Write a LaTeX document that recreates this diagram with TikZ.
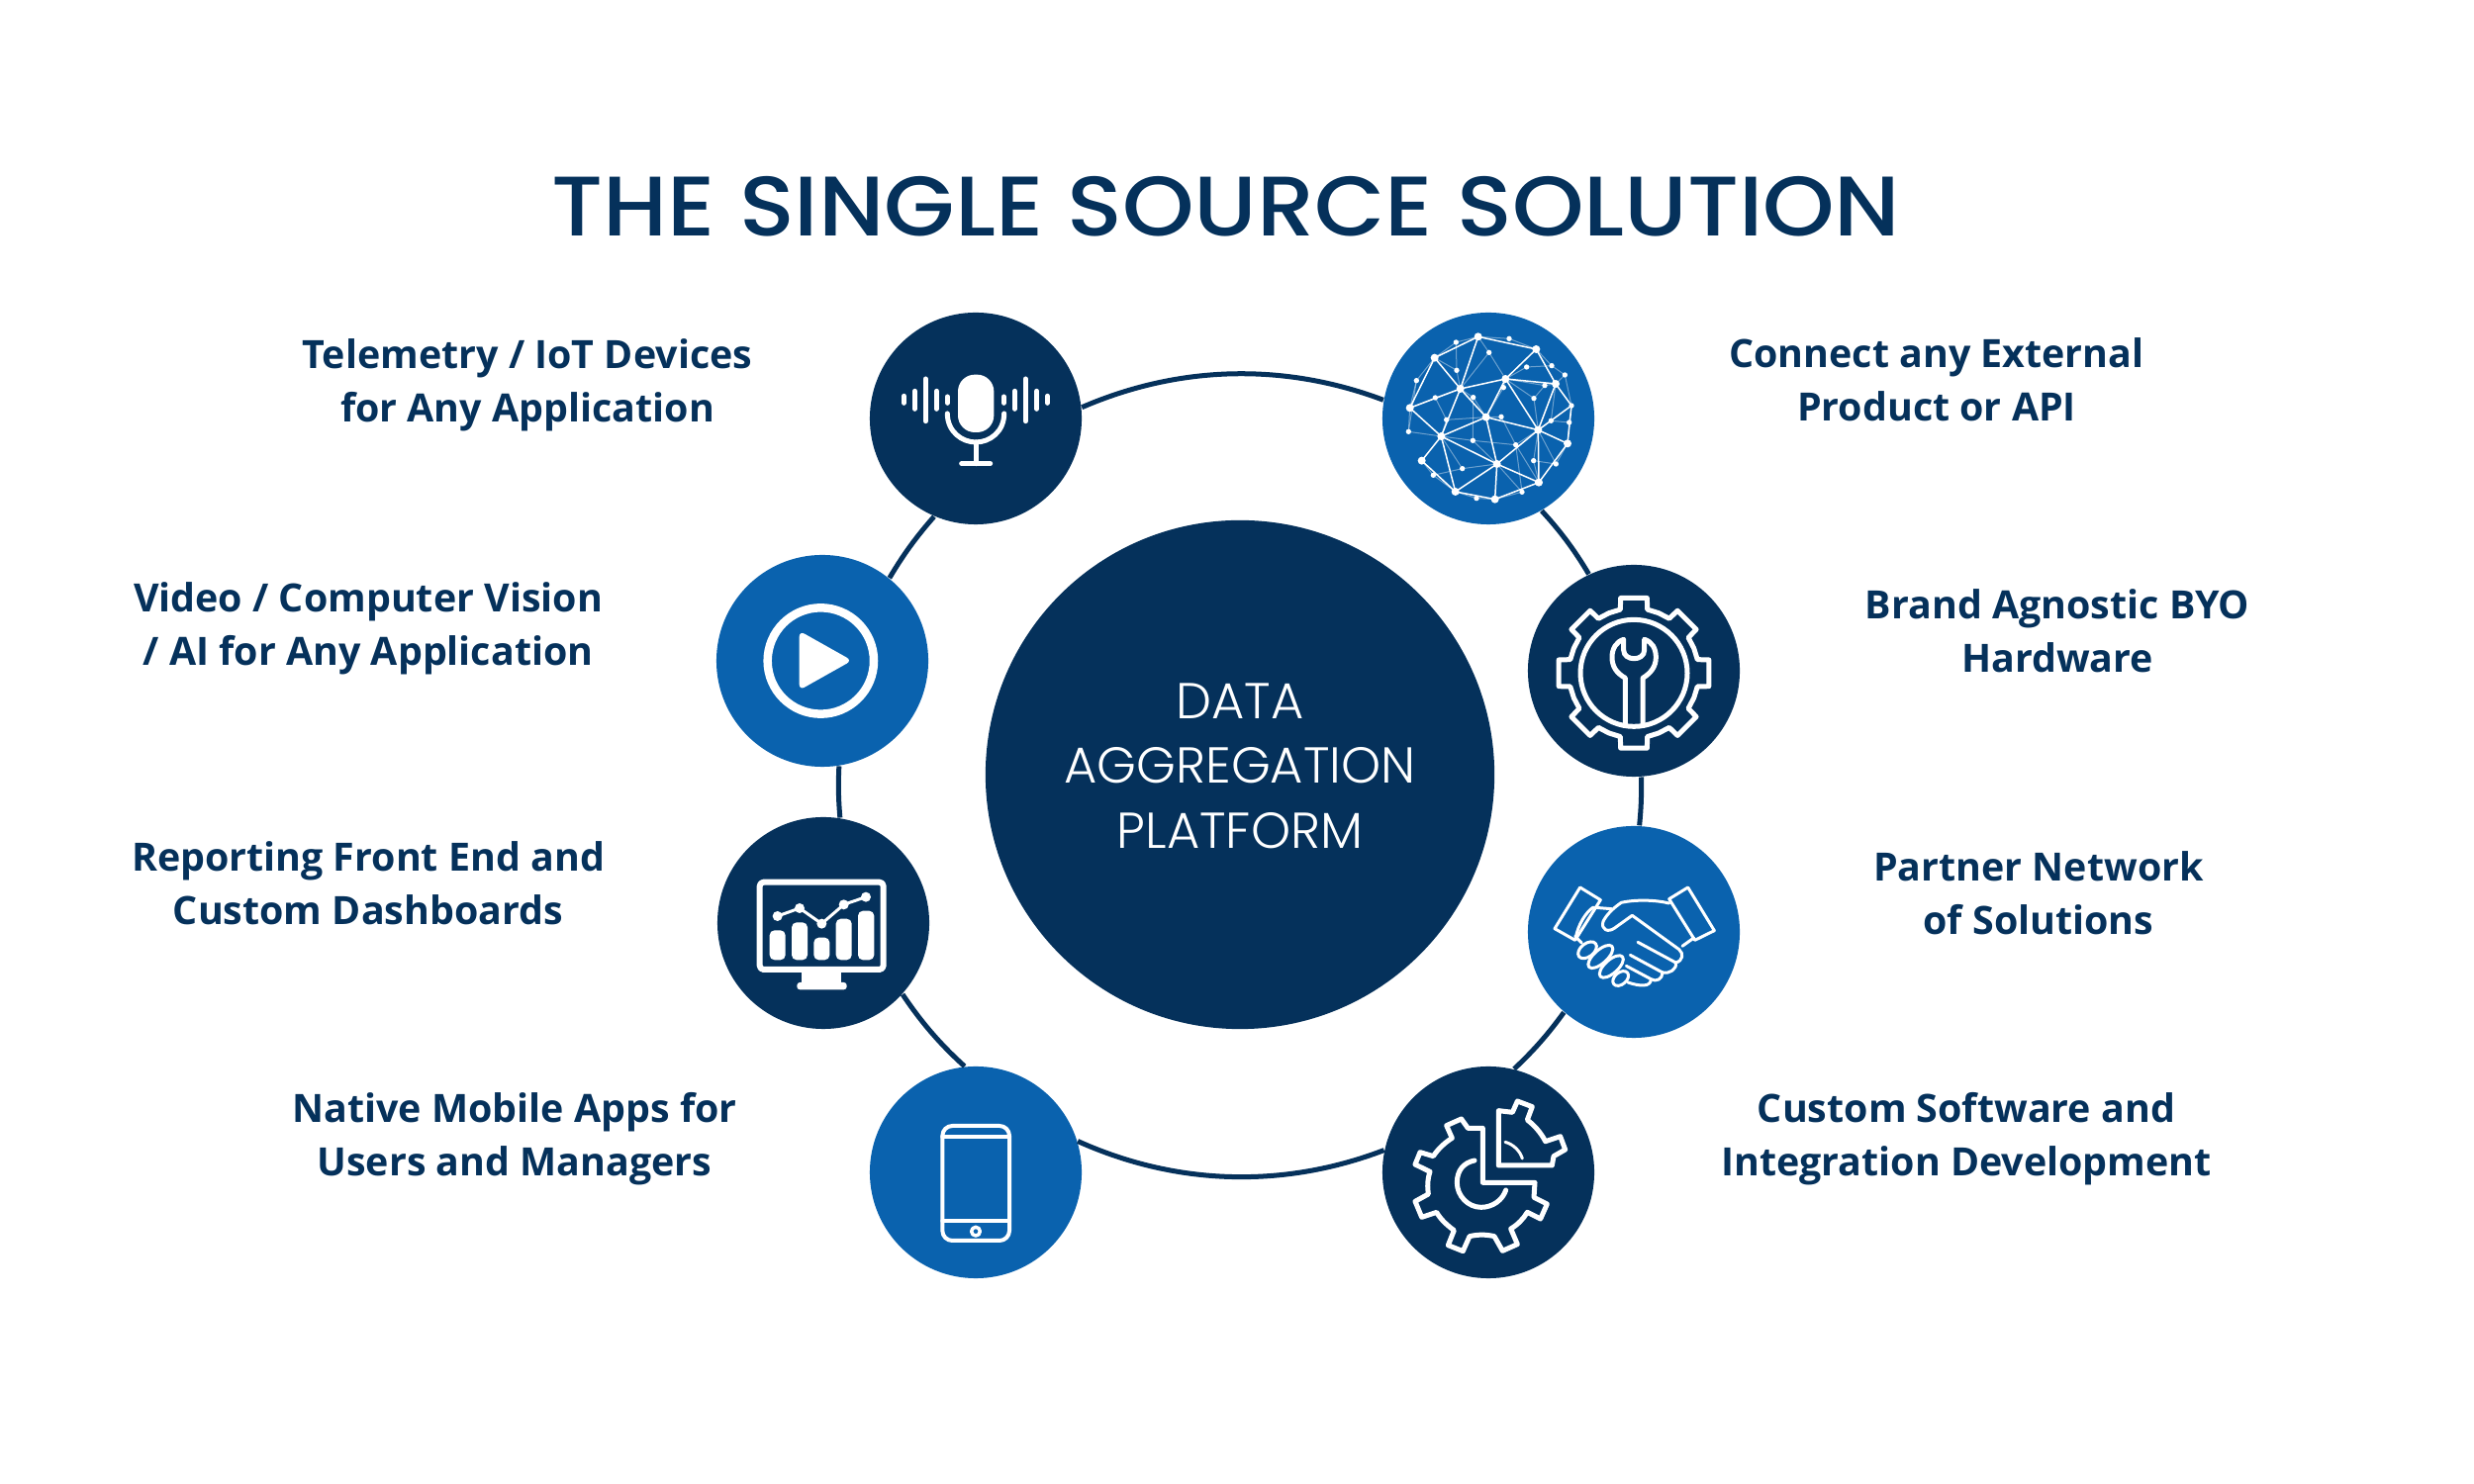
\documentclass[tikz,border=0pt]{standalone}
\usepackage{fontspec}
\setmainfont{Open Sans}
\newfontfamily\headfont{Poppins Medium}
\newfontfamily\hubfont{Poppins Light}
\definecolor{navy}{HTML}{05315B}
\definecolor{midblue}{HTML}{0A62AE}
\tikzset{
  hub/.style={circle,fill=#1,inner sep=0pt,minimum size=2.14cm},
  tag/.style={text=navy,align=center,inner sep=0pt,font=\fontsize{11.2}{15.4}\selectfont\bfseries},
  ringline/.style={draw=navy,line width=.05cm,looseness=.9},
  icon/.style n args={2}{xscale=1/3,yscale=-1/3,shift={(-#1,-#2)}},
  iconline/.style={draw=white,line width=#1,line join=round,line cap=round,fill=none},
  iconline/.default=.05cm
}
\begin{document}
\begin{tikzpicture}[x=.01cm,y=.01cm]
\useasboundingbox (0,0) rectangle (2500,1500);
\node[text=navy,inner sep=0pt,font=\fontsize{24.3}{28}\selectfont\headfont] (title) at (1239,1291) {\scalebox{1.08}[1]{THE SINGLE SOURCE SOLUTION}};
\node[circle,fill=navy,inner sep=0pt,minimum size=5.14cm] (platform) at (1253,717) {};
\node[text=white,inner sep=0pt,align=center,font=\fontsize{14.5}{18.6}\selectfont\hubfont] (platformtext) at (1253,726) {DATA\\AGGREGATION\\PLATFORM};
\node[hub=navy] (mic) at (986,1077) {};
\node[hub=midblue] (net) at (1504,1077) {};
\node[hub=navy] (gear) at (1651,822) {};
\node[hub=midblue] (hands) at (1651,558) {};
\node[hub=navy] (cog) at (1504,315) {};
\node[hub=midblue] (phone) at (986,315) {};
\node[hub=navy] (chart) at (832,567) {};
\node[hub=midblue] (play) at (831,832) {};
\draw[ringline] (mic.6) to[bend left=22] (net.170);
\draw[ringline] (net.-60) to[bend left=6] (gear.115);
\draw[ringline] (gear.-86) to[bend left=3.5] (hands.87);
\draw[ringline] (hands.229) to[bend left=5.5] (cog.76);
\draw[ringline] (cog.168) to[bend left=22.6] (phone.17);
\draw[ringline] (phone.96) to[bend left=7] (chart.-42);
\draw[ringline] (chart.81) to[bend left=4] (play.-81);
\draw[ringline] (play.51) to[bend left=5.5] (mic.247);
\node[tag] (telemetry) at (533,1111) {Telemetry / IoT Devices\\for Any Application};
\node[tag] (video) at (372,865) {Video / Computer Vision\\/ AI for Any Application};
\node[tag] (reporting) at (372,607) {Reporting Front End and\\Custom Dashboards};
\node[tag] (native) at (520,349) {Native Mobile Apps for\\Users and Managers};
\node[tag] (connect) at (1957,1116) {Connect any External\\Product or API};
\node[tag] (brand) at (2079,862) {Brand Agnostic BYO\\Hardware};
\node[tag] (partner) at (2060,597) {Partner Network\\of Solutions};
\node[tag] (custom) at (1987,349) {Custom Software and\\Integration Development};
% microphone
\begin{scope}[shift={(mic)},icon={407}{370}]
\foreach \x/\a/\b in {189/302/323,222/287/341,255/250/378,288/287/341,321/304/323,492/304/323,525/287/341,558/250/378,592/287/341,624/302/323}
  \draw[iconline] (\x,\a) -- (\x,\b);
\fill[white,rounded corners=.17cm] (353,237) rectangle (462,412);
\draw[iconline] (321,355) .. controls (321,410) and (365,442) .. (407,442) .. controls (450,442) and (493,410) .. (493,355);
\draw[iconline] (407,442) -- (407,507);
\draw[iconline] (364,507) -- (451,507);
\end{scope}
% network
\begin{scope}[shift={(net)},icon={372}{370}]
\foreach \n/\x/\y in {A/341/122,B/517/160,C/209/186,D/424/250,E/287/280,F/576/265,G/134/338,H/365/366,I/523/405,J/229/424,K/612/446,L/170/498,M/398/508,N/525/564,O/272/592,P/392/615}
  {\coordinate (\n) at (\x,\y); \fill[white] (\n) circle (12);}
\foreach \n/\x/\y in {a/274/139,b/435/128,c/374/170,d/488/214,e/564/210,f/604/238,g/154/255,h/276/224,i/418/276,j/543/270,k/211/307,l/326/306,m/510/309,n/624/331,o/245/374,p/411/365,q/562/377,r/617/382,s/130/410,t/325/437,u/455/450,v/509/498,w/577/508,x/293/522,y/205/542,z/336/612,aa/474/593}
  {\coordinate (\n) at (\x,\y); \fill[white] (\n) circle (8);}
\foreach \p/\q in {A/C,A/B,A/E,C/E,C/G,G/E,E/D,D/B,D/F,E/H,D/H,H/J,H/I,H/M,J/G,J/L,J/M,J/O,O/M,M/N,M/P,M/I,I/D,I/F,I/N,I/K,I/n,F/B,F/n,K/N,K/n,L/O,O/P,P/N,E/J}
  \draw[white,line width=.015cm] (\p) -- (\q);
\foreach \p/\q in {a/A,a/C,a/h,b/A,b/B,c/A,c/E,c/D,h/C,h/E,d/D,d/e,e/B,e/f,f/F,f/n,g/C,g/G,g/s,k/G,k/E,k/o,l/E,l/H,l/t,i/D,i/H,j/D,j/F,j/m,m/D,m/I,n/r,q/I,q/F,q/r,r/K,o/J,o/H,p/H,p/u,s/G,s/J,t/J,t/u,t/M,u/I,u/N,v/I,v/w,w/K,w/I,x/M,x/J,x/y,y/L,y/O,z/O,z/P,aa/P,aa/M,aa/u,v/N}
  \draw[white,opacity=.4,line width=.01cm] (\p) -- (\q);
\end{scope}
% gear with wrench
\begin{scope}[shift={(gear)},icon={363}{353}]
\begin{scope}[shift={(363,360)}]
\draw[iconline] (-22.5:197) foreach \a in {0,45,...,315} {-- (\a-12:197) -- (\a-10:231) -- (\a+10:231) -- (\a+12:197) -- (\a+22.5:197)} -- cycle;
\draw[iconline] (0,0) circle (162);
\end{scope}
\draw[iconline] (337,515) -- (337,375) .. controls (310,360) and (297,340) .. (297,312) .. controls (297,285) and (310,265) .. (332,258) -- (332,290) .. controls (332,325) and (395,325) .. (395,290) -- (395,258) .. controls (418,265) and (430,285) .. (430,312) .. controls (430,340) and (415,360) .. (390,375) -- (390,515);
\end{scope}
% handshake
\begin{scope}[shift={(hands)},icon={363}{1147}]
\tikzset{handline/.style={iconline=.03cm}}
\draw[handline] (200,1012) -- (262,1050) -- (185,1172) -- (123,1137) -- cycle;
\draw[handline] (527,1012) -- (470,1047) -- (548,1172) -- (607,1143) -- cycle;
\draw[handline] (470,1060) .. controls (430,1050) and (370,1048) .. (325,1058) .. controls (300,1075) and (280,1095) .. (270,1115) .. controls (262,1140) and (285,1150) .. (305,1135) -- (358,1097) -- (500,1200) .. controls (515,1212) and (512,1235) .. (490,1240) .. controls (495,1260) and (470,1275) .. (450,1270) .. controls (450,1290) and (430,1300) .. (415,1290) .. controls (415,1315) and (380,1312) .. (345,1300);
\draw[handline] (245,1073) -- (295,1077);
\draw[handline] (240,1072) .. controls (215,1090) and (195,1125) .. (187,1162);
\draw[handline] (185,1160) -- (205,1180);
\draw[handline] (510,1190) -- (545,1165);
\draw[handline] (375,1178) -- (490,1240);
\draw[handline] (352,1217) -- (450,1270);
\draw[handline] (340,1250) -- (415,1290);
\draw[handline] (222,1202) ellipse [x radius=32,y radius=20,rotate=-38];
\draw[handline] (262,1222) ellipse [x radius=47,y radius=20,rotate=-42];
\draw[handline] (295,1252) ellipse [x radius=45,y radius=20,rotate=-42];
\draw[handline] (323,1288) ellipse [x radius=27,y radius=18,rotate=-40];
\end{scope}
% cut gear
\begin{scope}[shift={(cog)},icon={372}{374}]
\draw[iconline] (355,240) -- (310,240) -- (290,212) -- (245,232) -- (262,270) .. controls (238,285) and (218,305) .. (205,325) -- (165,313) -- (150,350) -- (195,372) .. controls (187,395) and (187,420) .. (190,440) -- (150,462) -- (170,510) -- (215,495) .. controls (228,518) and (248,535) .. (268,550) -- (250,595) -- (295,613) -- (315,568) .. controls (340,562) and (365,562) .. (390,568) -- (415,612) -- (460,592) -- (440,545) .. controls (462,532) and (478,515) .. (490,495) -- (530,515) -- (550,470) -- (510,450) -- (513,405) -- (355,405) -- cycle;
\draw[iconline] (330,338) .. controls (295,345) and (277,370) .. (277,405) .. controls (277,445) and (310,480) .. (350,480) .. controls (385,480) and (415,458) .. (425,428);
\draw[iconline] (403,187) -- (403,353) -- (565,353) -- (570,325) -- (605,305) -- (590,265) -- (545,280) .. controls (530,252) and (512,232) .. (490,215) -- (505,175) -- (460,158) -- (445,192) -- cycle;
\draw[iconline=.03cm] (423,282) .. controls (450,290) and (468,310) .. (475,332);
\end{scope}
% phone
\begin{scope}[shift={(phone)},icon={377}{360}]
\draw[iconline=.04cm,rounded corners=.1cm] (276,219) rectangle (479,567);
\draw[iconline=.04cm] (276,253) -- (479,253);
\draw[iconline=.04cm] (276,508) -- (479,508);
\draw[iconline=.035cm] (377,539) circle (13);
\end{scope}
% chart
\begin{scope}[shift={(chart)},icon={367}{308}]
\draw[iconline=.06cm,rounded corners=.04cm] (174,184) rectangle (549,449);
\fill[white] (302,455) rectangle (422,492);
\fill[white,rounded corners=.03cm] (287,488) rectangle (438,510);
\foreach \a/\b/\c in {204/252/330,271/319/306,338/386/352,405/453/295,472/521/271}
  \fill[white,rounded corners=.05cm] (\a,420) -- (\a,\c) -- (\b,\c) -- (\b,420) -- cycle;
\draw[iconline=.03cm] (228,287) -- (295,263) -- (362,310) -- (429,252) -- (496,229);
\foreach \a/\b in {228/287,295/263,362/310,429/252,496/229}
  \fill[white] (\a,\b) circle (15);
\end{scope}
% play
\begin{scope}[shift={(play)},icon={367}{356}]
\draw[iconline=.085cm] (362,356) circle (161);
\fill[white,rounded corners=.06cm] (297,265) -- (457,355) -- (297,445) -- cycle;
\end{scope}
\end{tikzpicture}
\end{document}
